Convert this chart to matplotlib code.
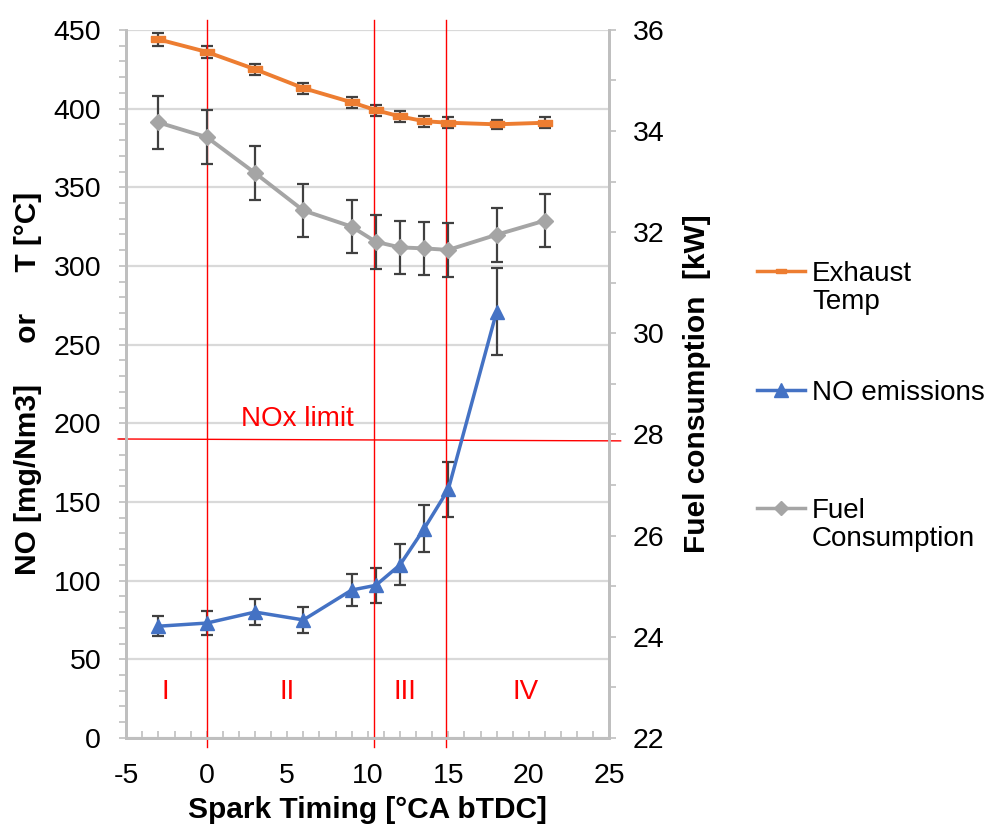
"""Spark timing sweep: NO emissions, exhaust temperature and fuel consumption."""

import matplotlib.pyplot as plt
from matplotlib.lines import Line2D
from matplotlib.ticker import MultipleLocator

plt.rcParams["font.family"] = ["Liberation Sans", "DejaVu Sans"]
plt.rcParams["axes.unicode_minus"] = False

# spark timing [deg CA bTDC]
spark_timing = [-3, 0, 3, 6, 9, 10.5, 12, 13.5, 15, 18, 21]

exhaust_temp = [444, 436, 425, 413, 404, 399, 395, 392, 391, 390, 391]
exhaust_err = [4, 4, 3.5, 3.5, 3.5, 3.5, 3.5, 3.5, 3.5, 3, 3.5]

no_emissions = [71, 73, 80, 75, 94, 97, 110, 133, 158, 271]
no_err = [6.5, 7.5, 8, 8, 10, 11, 13, 15, 17.5, 27.5]

fuel_consumption = [34.17, 33.88, 33.17, 32.43, 32.11, 31.81, 31.70, 31.68, 31.65, 31.95, 32.23]
fuel_err = [0.53] * 11

nox_limit = 190
zone_bounds = [0, 10.4, 14.85]
zone_labels = ["I", "II", "III", "IV"]
zone_label_x = [-2.6, 5.0, 12.3, 19.8]

ORANGE = "#ED7D31"
BLUE = "#4472C4"
GRAY = "#A5A5A5"
RED = "#FF0000"
ERR = "#404040"
SPINE = "#BFBFBF"
GRID = "#D9D9D9"
FS = 20.5

# wide flat rectangle, like the "dash" marker of the original
DASH = [(-1, -0.45), (1, -0.45), (1, 0.45), (-1, 0.45), (-1, -0.45)]

fig = plt.figure(figsize=(9.86, 8.31), dpi=100)
ax = fig.add_axes([0.128, 0.112, 0.49, 0.852])
ax2 = ax.twinx()

err_kw = dict(fmt="none", ecolor=ERR, elinewidth=1.6, capsize=4, capthick=1.6, zorder=3)

no_x = spark_timing[:len(no_emissions)]
ax.errorbar(spark_timing, exhaust_temp, yerr=exhaust_err, **err_kw)
ax.errorbar(no_x, no_emissions, yerr=no_err, **err_kw)
ax.plot(spark_timing, exhaust_temp, color=ORANGE, lw=2.8, marker=DASH, ms=10, zorder=4)
ax.plot(no_x, no_emissions, color=BLUE, lw=2.5, marker="^", ms=10, zorder=4)
ax2.errorbar(spark_timing, fuel_consumption, yerr=fuel_err, **err_kw)
ax2.plot(spark_timing, fuel_consumption, color=GRAY, lw=2.8, marker="D", ms=8, zorder=4)

ax.set_xlim(-5, 25)
ax.set_ylim(0, 450)
ax2.set_ylim(22, 36)

ax.yaxis.set_major_locator(MultipleLocator(50))
ax.yaxis.set_minor_locator(MultipleLocator(10))
ax.xaxis.set_major_locator(MultipleLocator(5))
ax.xaxis.set_minor_locator(MultipleLocator(1))
ax2.yaxis.set_major_locator(MultipleLocator(2))
ax2.yaxis.set_minor_locator(MultipleLocator(1))

ax.grid(axis="y", color=GRID, lw=1.6)
ax.set_axisbelow(True)

for a in (ax, ax2):
    a.spines["top"].set_visible(False)
    for side in ("left", "right", "bottom"):
        a.spines[side].set_color(SPINE)
        a.spines[side].set_linewidth(2)

ax.tick_params(axis="y", which="both", direction="out", length=5, width=1.2,
               color=SPINE, labelsize=FS, pad=13)
ax.tick_params(axis="x", which="both", direction="in", length=5, width=1.2,
               color=SPINE, labelsize=FS, pad=18)
ax2.tick_params(axis="y", which="both", direction="out", length=5, width=1.2,
                color=SPINE, labelsize=FS, pad=12)

ax.set_xlabel("Spark Timing [°CA bTDC]", fontsize=21.5, fontweight="bold", labelpad=5)
ax.set_ylabel("NO [mg/Nm3]     or     T [°C]", fontsize=21.5, fontweight="bold", labelpad=8,
              family=["Liberation Sans Narrow", "Liberation Sans"])
ax2.set_ylabel("Fuel consumption  [kW]", fontsize=21.5, fontweight="bold", labelpad=13)

# zone boundaries and NOx limit
for xb in zone_bounds:
    ax.plot([xb, xb], [456, -6], color=RED, lw=1, clip_on=False, zorder=3.5)
ax.plot([-5.5, 25.7], [nox_limit, nox_limit - 1.2], color=RED, lw=1, clip_on=False, zorder=3.5)
ax.text(5.6, 203, "NOx limit", color=RED, fontsize=20, ha="center", va="center")
for lbl, xl in zip(zone_labels, zone_label_x):
    ax.text(xl, 29, lbl, color=RED, fontsize=20, ha="center", va="center")

# legend, entries spaced as in the reference
legend_items = [
    (ORANGE, DASH, 7, "Exhaust\nTemp", 271),
    (BLUE, "^", 10, "NO emissions", 390),
    (GRAY, "D", 7, "Fuel\nConsumption", 508),
]
W, H = 986, 831
for color, mk, ms, label, ypx in legend_items:
    yf = 1 - ypx / H
    fig.add_artist(Line2D([757 / W, 805 / W], [yf, yf], color=color, lw=2.5))
    fig.add_artist(Line2D([781 / W], [yf], color=color, marker=mk, ms=ms))
    fig.text(812 / W, yf + 10 / H, label, fontsize=20, ha="left", va="top", linespacing=1.12)

fig.savefig("out.png", dpi=100)
